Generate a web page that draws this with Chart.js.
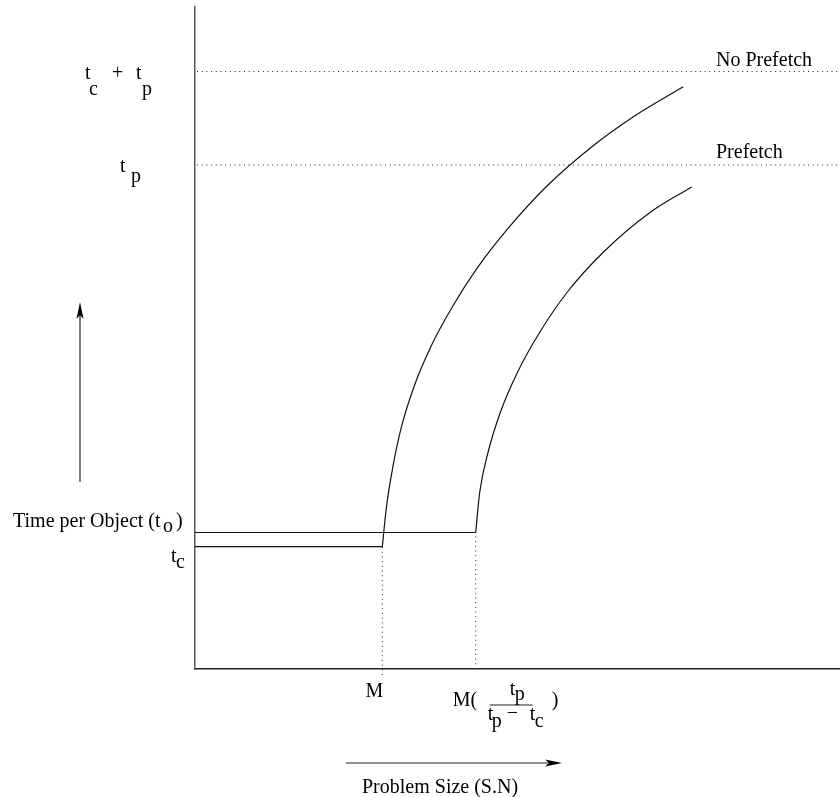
<!DOCTYPE html>
<html>
<head>
<meta charset="utf-8">
<script src="https://cdn.jsdelivr.net/npm/chart.js@4"></script>
<style>
  html, body { margin: 0; padding: 0; background: #fff; }
  #wrap { width: 840px; height: 797px; }
</style>
</head>
<body>
<div id="wrap"><canvas id="chart"></canvas></div>
<script>
// problem size on x, time per object on y (drawing units)
const levelTcTp = 597.5;   // t_c + t_p
const levelTp = 504;       // t_p
const levelTc = 122.3;     // t_c
const levelTo = 136.5;     // time per object with prefetch
const sizeM = 187.3;       // M
const sizeM2 = 280.7;      // M(tp/(tp-tc))

const noPrefetchX = [187.3, 191.5, 197.9, 206.5, 219.0, 235.8, 257.4, 283.2, 314.5, 351.2, 396.9, 438.4, 488.3];
const noPrefetchY = [122.3, 162.3, 202.3, 242.3, 282.3, 322.3, 362.3, 402.3, 442.3, 482.3, 522.3, 552.3, 582.3];
const prefetchX = [280.7, 284.7, 293.0, 305.3, 322.4, 344.6, 372.0, 408.0, 455.0, 496.7];
const prefetchY = [136.5, 176.5, 216.5, 256.5, 296.5, 336.5, 376.5, 416.5, 456.5, 482.1];

const xMax = 645;
const yMax = 662;

function pts(xs, ys) {
    return xs.map((x, i) => ({ x: x, y: ys[i] }));
}

const solid = { borderColor: '#111', borderWidth: 1.2, pointRadius: 0, fill: false };
const curve = { ...solid, cubicInterpolationMode: 'monotone' };
const dotted = { borderColor: '#222', borderWidth: 1, borderDash: [1, 3.7], pointRadius: 0, fill: false };

// text with sub/superscript pieces: [text, dx, dy] from an anchor
function rich(ctx, x, y, parts) {
    parts.forEach(p => ctx.fillText(p[0], x + p[1], y + p[2]));
}

function arrow(ctx, x1, y1, x2, y2) {
    const ang = Math.atan2(y2 - y1, x2 - x1);
    const len = 17, half = 3.5;
    ctx.beginPath();
    ctx.moveTo(x1, y1);
    ctx.lineTo(x2 - Math.cos(ang) * 8, y2 - Math.sin(ang) * 8);
    ctx.stroke();
    ctx.beginPath();
    ctx.moveTo(x2, y2);
    ctx.lineTo(x2 - Math.cos(ang) * len - Math.sin(ang) * half, y2 - Math.sin(ang) * len + Math.cos(ang) * half);
    ctx.lineTo(x2 - Math.cos(ang) * (len - 4), y2 - Math.sin(ang) * (len - 4));
    ctx.lineTo(x2 - Math.cos(ang) * len + Math.sin(ang) * half, y2 - Math.sin(ang) * len - Math.cos(ang) * half);
    ctx.closePath();
    ctx.fill();
}

const labels = {
    id: 'labels',
    afterDraw(chart) {
        const ctx = chart.ctx;
        const xs = chart.scales.x, ys = chart.scales.y;
        ctx.save();
        ctx.fillStyle = '#000';
        ctx.strokeStyle = '#222';
        ctx.lineWidth = 1.2;
        ctx.font = '20px "Liberation Serif", "Times New Roman", serif';
        ctx.textBaseline = 'alphabetic';

        const yA = ys.getPixelForValue(levelTcTp);
        rich(ctx, 85, yA + 7, [['t', 0, 0], ['c', 4, 16], ['+', 27, 0], ['t', 51, 0], ['p', 57, 16]]);
        const yB = ys.getPixelForValue(levelTp);
        rich(ctx, 120, yB + 7, [['t', 0, 0], ['p', 11, 10]]);
        const yC = ys.getPixelForValue(levelTc);
        rich(ctx, 171, yC + 15, [['t', 0, 0], ['c', 5, 6]]);
        const yD = ys.getPixelForValue(levelTo);
        rich(ctx, 13, yD - 6, [['Time per Object (t', 0, 0], ['o', 150, 5], [')', 163, 0]]);

        ctx.fillText('No Prefetch', 716, ys.getPixelForValue(levelTcTp) - 6);
        ctx.fillText('Prefetch', 716, ys.getPixelForValue(levelTp) - 7);

        const xM = xs.getPixelForValue(sizeM);
        ctx.textAlign = 'center';
        ctx.fillText('M', xM - 8, 697);
        ctx.textAlign = 'left';
        const xM2 = xs.getPixelForValue(sizeM2);
        rich(ctx, xM2 - 23, 706, [['M(', 0, 0], [')', 99, 0]]);
        rich(ctx, xM2 + 34, 695, [['t', 0, 0], ['p', 5, 5]]);
        ctx.beginPath();
        ctx.moveTo(xM2 + 14, 705);
        ctx.lineTo(xM2 + 57, 705);
        ctx.stroke();
        rich(ctx, xM2 + 12, 720, [['t', 0, 0], ['p', 4, 7], ['\u2212', 19, -1], ['t', 42, 0], ['c', 47, 7]]);

        ctx.fillText('Problem Size (S.N)', 362, 793);

        arrow(ctx, 346, 763, 562, 763);
        arrow(ctx, 80, 482, 80, 302);
        ctx.restore();
    }
};

new Chart(document.getElementById('chart'), {
    type: 'line',
    data: {
        datasets: [
            { ...solid, data: pts([0, sizeM], [levelTc, levelTc]) },
            { ...curve, data: pts(noPrefetchX, noPrefetchY) },
            { ...solid, data: pts([0, sizeM2], [levelTo, levelTo]) },
            { ...curve, data: pts(prefetchX, prefetchY) },
            { ...dotted, data: pts([2, xMax], [levelTcTp, levelTcTp]) },
            { ...dotted, data: pts([2, xMax], [levelTp, levelTp]) },
            { ...dotted, data: pts([sizeM, sizeM], [-6, levelTc]), clip: false },
            { ...dotted, data: pts([sizeM2, sizeM2], [0, levelTo]) }
        ]
    },
    options: {
        responsive: true,
        maintainAspectRatio: false,
        animation: false,
        layout: { padding: { left: 195, right: 0, top: 7, bottom: 128 } },
        scales: {
            x: {
                type: 'linear', min: 0, max: xMax,
                ticks: { display: false },
                grid: { display: false, drawTicks: false },
                border: { display: true, color: '#222', width: 1.5 },
                afterFit(scale) { scale.height = 0; }
            },
            y: {
                type: 'linear', min: 0, max: yMax,
                ticks: { display: false },
                grid: { display: false, drawTicks: false },
                border: { display: true, color: '#555', width: 1.5 },
                afterFit(scale) { scale.width = 0; }
            }
        },
        plugins: {
            legend: { display: false },
            tooltip: { enabled: false }
        }
    },
    plugins: [labels]
});
</script>
</body>
</html>
